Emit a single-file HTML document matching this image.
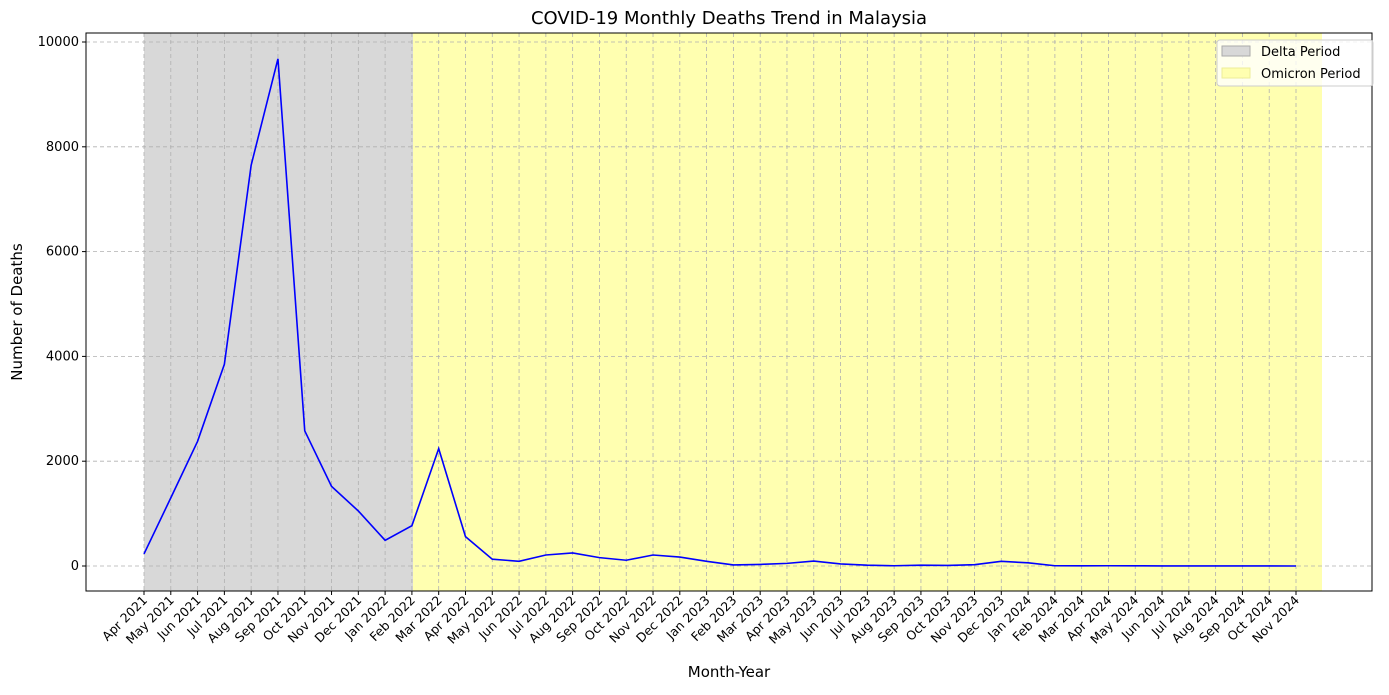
<!DOCTYPE html>
<html><head><meta charset="utf-8"><style>
body{margin:0;background:#fff;font-family:"Liberation Sans","DejaVu Sans",sans-serif}
</style></head><body>
<svg width="1389" height="690" xmlns="http://www.w3.org/2000/svg" id="svg" font-family="DejaVu Sans, Liberation Sans, sans-serif"></svg>
<script>
const categories=["Apr 2021","May 2021","Jun 2021","Jul 2021","Aug 2021","Sep 2021","Oct 2021","Nov 2021","Dec 2021","Jan 2022","Feb 2022","Mar 2022","Apr 2022","May 2022","Jun 2022","Jul 2022","Aug 2022","Sep 2022","Oct 2022","Nov 2022","Dec 2022","Jan 2023","Feb 2023","Mar 2023","Apr 2023","May 2023","Jun 2023","Jul 2023","Aug 2023","Sep 2023","Oct 2023","Nov 2023","Dec 2023","Jan 2024","Feb 2024","Mar 2024","Apr 2024","May 2024","Jun 2024","Jul 2024","Aug 2024","Sep 2024","Oct 2024","Nov 2024"];
const deaths=[230,1300,2380,3850,7650,9680,2580,1520,1050,490,770,2240,560,130,90,210,250,160,110,210,170,90,20,30,50,95,40,15,5,15,10,25,90,60,5,3,5,3,2,2,2,1,1,0];
const yTicks=[0,2000,4000,6000,8000,10000];
const deltaSpan=[0,10.04];
const omicronSpan=[10.04,43.97];
const L=86,R=1372,T=33,B=591;
const x0=144,dx=(1296-144)/43;
const X=i=>x0+i*dx;
const Y=v=>566-v*0.0524;
const svg=document.getElementById('svg');
function el(t,a,txt){const e=document.createElementNS('http://www.w3.org/2000/svg',t);for(const k in a)e.setAttribute(k,a[k]);if(txt!==undefined)e.textContent=txt;svg.appendChild(e);return e;}
let e;
e=el('rect',{x:X(deltaSpan[0]),y:T,width:X(deltaSpan[1])-X(deltaSpan[0]),height:B-T,fill:'#d8d8d8'});

e=el('rect',{x:X(omicronSpan[0]),y:T,width:X(omicronSpan[1])-X(omicronSpan[0]),height:B-T,fill:'#ffffb0'});

yTicks.forEach(v=>{
 e=el('line',{x1:L,x2:R,y1:Y(v),y2:Y(v),stroke:'#b0b0b0','stroke-dasharray':'4,3','stroke-width':0.8});
 
 el('line',{x1:L-4,x2:L,y1:Y(v),y2:Y(v),stroke:'#000'});
 e=el('text',{x:L-7,y:Y(v)+4,'text-anchor':'end','font-size':13},v);
 
});
categories.forEach((c,i)=>{
 e=el('line',{x1:X(i),x2:X(i),y1:T,y2:B,stroke:'#b0b0b0','stroke-dasharray':'4,3','stroke-width':0.8});
 
 el('line',{x1:X(i),x2:X(i),y1:B,y2:B+4,stroke:'#000'});
 e=el('text',{x:X(i)+4,y:B+10,'text-anchor':'end','font-size':12.5,transform:`rotate(-45 ${X(i)+4} ${B+10})`},c);
 
});
e=el('polyline',{points:deaths.map((v,i)=>X(i)+','+Y(v)).join(' '),fill:'none',stroke:'#0000ff','stroke-width':1.6});

e=el('rect',{x:L,y:T,width:R-L,height:B-T,fill:'none',stroke:'#000','stroke-width':1});

e=el('text',{x:(L+R)/2,y:24,'text-anchor':'middle','font-size':18},'COVID-19 Monthly Deaths Trend in Malaysia');

e=el('text',{x:(L+R)/2,y:677,'text-anchor':'middle','font-size':15},'Month-Year');

e=el('text',{x:22,y:312,'text-anchor':'middle','font-size':15,transform:'rotate(-90 22 312)'},'Number of Deaths');

e=el('rect',{x:1217,y:40,width:156,height:46,fill:'#fff','fill-opacity':0.8,stroke:'#ccc',rx:3});

el('rect',{x:1222,y:46,width:28,height:10,fill:'#d8d8d8',stroke:'#aaa'});
e=el('text',{x:1261,y:56,'font-size':13},'Delta Period');

el('rect',{x:1222,y:68,width:28,height:10,fill:'#ffffb0',stroke:'#ee9'});
e=el('text',{x:1261,y:78,'font-size':13},'Omicron Period');

</script>
</body></html>
